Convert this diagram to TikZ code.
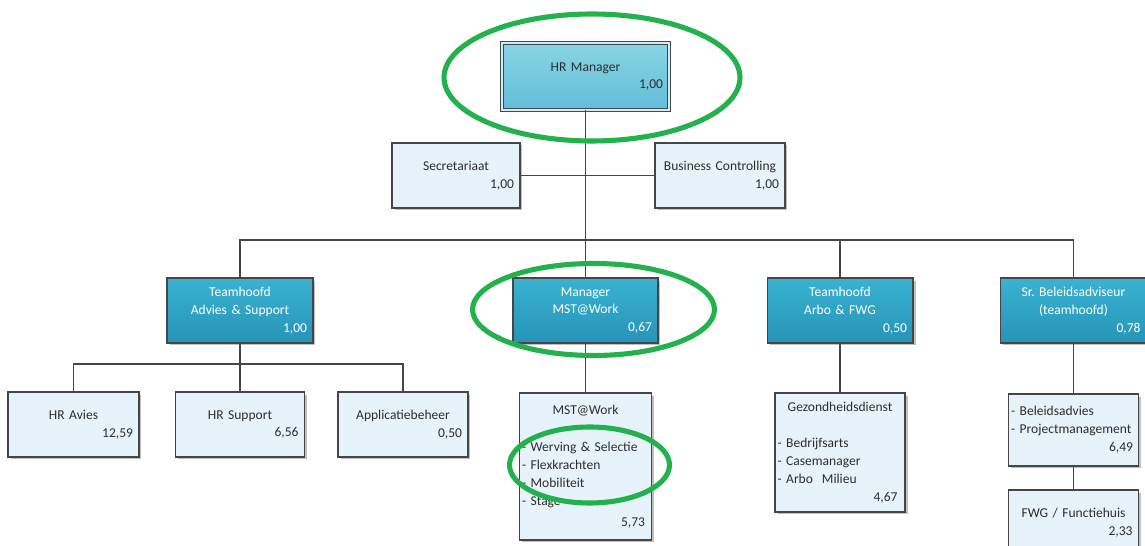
\documentclass[tikz,border=0pt]{standalone}
\usepackage{fontspec}
\setmainfont{Carlito}
\frenchspacing
\usetikzlibrary{shadows, positioning}
\definecolor{boxline}{RGB}{70,70,70}
\definecolor{lightfill}{RGB}{231,243,250}
\definecolor{teamtop}{RGB}{58,178,210}
\definecolor{teambottom}{RGB}{38,148,182}
\definecolor{headtop}{RGB}{136,212,228}
\definecolor{headbottom}{RGB}{98,190,216}
\definecolor{ringgreen}{RGB}{34,177,76}
\definecolor{textgray}{RGB}{45,45,45}
\newcommand{\fteval}[1]{\mbox{}\hfill #1}
\tikzset{
x=0.02cm, y=-0.02cm, % one unit is one pixel of the scan
every node/.style={font=\fontsize{7.7}{10.2}\selectfont},
unit/.style={draw=boxline, line width=0.6pt, inner xsep=0.12cm, inner ysep=0pt, minimum height=1.3cm,
  drop shadow={shadow xshift=0.05cm, shadow yshift=-0.05cm, fill=black!50, opacity=0.5}}, % common box look
office/.style={unit, fill=lightfill, text=textgray, align=center}, % light staff boxes
listbox/.style={office, align=left, inner xsep=0.05cm}, % light boxes with a list
team/.style={unit, top color=teamtop, bottom color=teambottom, text=white, align=center}, % team leaders
chief/.style={unit, top color=headtop, bottom color=headbottom, text=textgray, align=center,
  double=headtop!40!white, double distance=0.8pt, line width=0.5pt}, % the head
link/.style={draw=boxline, line width=0.6pt}, % connectors
ring/.style={draw=ringgreen, line width=2.9pt} % green marks
}

\begin{document}
\begin{tikzpicture}
\useasboundingbox (0,0) rectangle (1145,546);

% head and staff
\node[chief, minimum height=1.34cm, text width=3.1cm] (hr) at (585.5,76.5) {HR Manager\\ \fteval{1,00}};
\node[office, text width=2.32cm] (sec) at (456,175.5) {Secretariaat\\ \fteval{1,00}};
\node[office, text width=2.36cm] (bc) at (720,175.5) {Business Controlling\\ \fteval{1,00}};

% team leaders
\node[team, text width=2.68cm] (adv) at (240,310.5) {Teamhoofd\\ Advies \& Support\\ \fteval{1,00}};
\node[team, text width=2.66cm] (mgr) at (585.5,310.5) {Manager\\ MST@Work\\ \fteval{0,67}};
\node[team, text width=2.68cm] (arbo) at (840,310.5) {Teamhoofd\\ Arbo \& FWG\\ \fteval{0,50}};
\node[team, text width=2.68cm] (sr) at (1073.5,310.5) {Sr. Beleidsadviseur\\ (teamhoofd)\\ \fteval{0,78}};

% units
\node[office, text width=2.38cm] (avies) at (73.5,424.5) {HR Avies\\ \fteval{12,59}};
\node[office, text width=2.34cm] (support) at (240,424.5) {HR Support\\ \fteval{6,56}};
\node[office, text width=2.36cm] (appl) at (403,424.5) {Applicatiebeheer\\ \fteval{0,50}};
\node[listbox, minimum height=2.94cm, text width=2.54cm] (mstwork) at (585.5,466.5)
  {\fteval{MST@Work}\hfill\mbox{}\\[11pt] - Werving \& Selectie\\ - Flexkrachten\\ - Mobiliteit\\ - Stage\\[2pt] \fteval{5,73\hspace*{0.08cm}}};
\node[listbox, minimum height=2.38cm, text width=2.5cm] (gezond) at (840,452.5)
  {\fteval{Gezondheidsdienst}\hfill\mbox{}\\[10.2pt] - Bedrijfsarts\\ - Casemanager\\ - Arbo\ \ Milieu\\ \fteval{4,67\hspace*{0.1cm}}};
\node[listbox, minimum height=1.44cm, text width=2.5cm] (beleid) at (1073.5,430)
  {- Beleidsadvies\\ - Projectmanagement\\ \fteval{6,49\hspace*{0.06cm}}};
\node[office, minimum height=1.32cm, text width=2.36cm] (fwg) at (1073.5,523) {FWG / Functiehuis\\ \fteval{2,33}};

% connectors
\coordinate (bus) at (585.5,240);
\coordinate (subbus) at (240,364);
\draw[link] (hr.south) -- (mgr.north);
\draw[link] (sec.east) -- (bc.west);
\draw[link] (adv.north) |- (bus) -| (sr.north);
\draw[link] (arbo.north) -- (arbo.north |- bus);
\draw[link] (avies.north) |- (subbus) -| (appl.north);
\draw[link] (adv.south) -- (support.north);
\draw[link] (mgr.south) -- (mstwork.north);
\draw[link] (arbo.south) -- (gezond.north);
\draw[link] (sr.south) -- (beleid.north);
\draw[link] (beleid.south) -- (fwg.north);

% green marks
\draw[ring] (592,77.5) ellipse [x radius=2.96cm, y radius=1.27cm];
\draw[ring] (593.5,309.5) ellipse [x radius=2.42cm, y radius=0.92cm];
\draw[ring] (589.5,465) ellipse [x radius=1.6cm, y radius=0.76cm];
\end{tikzpicture}
\end{document}
